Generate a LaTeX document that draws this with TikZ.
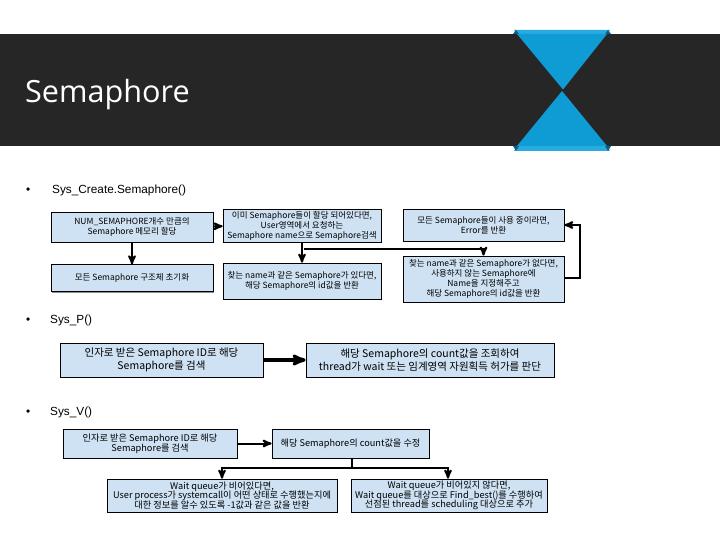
\documentclass[tikz,border=0pt]{standalone}
\usepackage{fontspec}
\setmainfont{Noto Sans CJK KR}
\newfontfamily\titlefont{Open Sans}
\newfontfamily\listfont{Liberation Sans}
\usetikzlibrary{arrows,positioning,shadows}
\definecolor{barcolor}{HTML}{262626}
\definecolor{hourblue}{HTML}{0F9BD4}
\definecolor{hourlight}{HTML}{29ABE2}
\definecolor{hourdark}{HTML}{0B5F8A}
\definecolor{boxblue}{HTML}{CFE2F3}
\tikzset{
    %Define standard arrow tip
    >=stealth',
    %Define style for boxes
    punktflat/.style={
    rectangle,
    fill=boxblue,
    draw=black, line width=0.7pt,
    inner sep=0pt,
    align=center,
    execute at begin node={\lineskiplimit=-20pt\relax},
    font=\fontsize{10.5}{12.3}\selectfont},
    punktrect/.style={
    punktflat,
    font=\fontsize{8.5}{10}\selectfont,
    drop shadow={shadow xshift=1pt,shadow yshift=-1pt,opacity=0.45,fill=black}},
    punktwide/.style={
    punktrect,
    font=\fontsize{9.2}{9.6}\selectfont},
    % Define arrow style
    pil/.style={
           ->,
           line width=2pt,},
    pilthick/.style={
           ->,
           line width=3.2pt,},
    %Define style for headings
    listtext/.style={anchor=west,inner sep=0pt,font=\listfont\fontsize{11.8}{13}\selectfont}
}
\begin{document}
\begin{tikzpicture}[x=1pt,y=-1pt]
\useasboundingbox (0,0) rectangle (720,540);
 %title bar
\fill[barcolor] (0,34) rectangle (720,146);
\fill[hourlight] (514,30) -- (610,30) -- (607,34) -- (517,34) -- cycle;
\fill[hourlight] (517,146) -- (607,146) -- (610,151) -- (514,151) -- cycle;
\fill[hourdark] (513,34) -- (516,30) -- (519,34) -- cycle;
\fill[hourdark] (605,34) -- (608,30) -- (611,34) -- cycle;
\fill[hourdark] (513,146) -- (516,151) -- (519,146) -- cycle;
\fill[hourdark] (605,146) -- (608,151) -- (611,146) -- cycle;
\fill[hourblue] (517,34) -- (607,34) -- (563,89.5) -- cycle;
\fill[hourblue] (517,146) -- (607,146) -- (562,91) -- cycle;
\node[anchor=west,inner sep=0pt,text=white,font=\titlefont\fontsize{30.6}{36}\selectfont] (title) at (25,95) {Semaphore};
 %headings
\node[listtext] (bullet1) at (26,190.5) {•};
\node[listtext] (create) at (52,190.5) {Sys\_Create.Semaphore()};
\node[listtext] (bullet2) at (26,320.5) {•};
\node[listtext] (sysp) at (50,320.5) {Sys\_P()};
\node[listtext] (bullet3) at (26,412.5) {•};
\node[listtext] (sysv) at (50,412.5) {Sys\_V()};
 %nodes of Sys_Create
\node[punktrect, minimum width=162pt, minimum height=30pt] (alloc) at (132,227) {NUM\_SEMAPHORE개수 만큼의\\Semaphore 메모리 할당};
\node[punktrect, minimum width=162pt, minimum height=27pt, below=22pt of alloc] (init) {모든 Semaphore 구조체 초기화};
\node[punktrect, minimum width=158pt, minimum height=33pt] (search) at (302,225.5) {이미 Semaphore들이 할당 되어있다면,\\User영역에서 요청하는\\Semaphore name으로 Semaphore검색};
\node[punktrect, minimum width=158pt, minimum height=36pt] (found) at (302,281) {찾는 name과 같은 Semaphore가 있다면,\\해당 Semaphore의 id값을 반환};
\node[punktrect, minimum width=161pt, minimum height=32pt] (full) at (483.5,225) {모든 Semaphore들이 사용 중이라면,\\Error를 반환};
\node[punktrect, minimum width=161pt, minimum height=46pt] (notfound) at (483.5,279) {찾는 name과 같은 Semaphore가 없다면,\\사용하지 않는 Semaphore에\\Name을 지정해주고\\해당 Semaphore의 id값을 반환};
 %nodes of Sys_P
\node[punktflat, minimum width=203pt, minimum height=34pt] (psearch) at (161.5,360) {인자로 받은 Semaphore ID로 해당\\Semaphore를 검색};
\node[punktflat, minimum width=248pt, minimum height=34pt] (pcount) at (430,360) {해당 Semaphore의 count값을 조회하여\\thread가 wait 또는 임계영역 자원획득 허가를 판단};
 %nodes of Sys_V
\node[punktwide, minimum width=174pt, minimum height=29pt] (vsearch) at (150,443.5) {인자로 받은 Semaphore ID로 해당\\Semaphore를 검색};
\node[punktwide, minimum width=157pt, minimum height=29pt] (vcount) at (350.5,443.5) {해당 Semaphore의 count값을 수정};
\node[punktwide, minimum width=230pt, minimum height=33pt] (vempty) at (222,495.5) {Wait queue가 비어있다면,\\User process가 systemcall이 어떤 상태로 수행했는지에\\대한 정보를 알수 있도록 -1값과 같은 값을 반환};
\node[punktwide, minimum width=196pt, minimum height=33pt] (vfull) at (449,495.5) {Wait queue가 비어있지 않다면,\\Wait queue를 대상으로 Find\_best()를 수행하여\\선점된 thread를 scheduling 대상으로 추가};
 %connectors
\path[pil]
	(alloc) edge (search)
	(alloc) edge (init)
	(search.south -| found) edge (found);
\draw[pil] (search.south -| found) ++(2,7) coordinate (branch) -- (branch -| notfound) -- (notfound.north);
\draw[pil] (notfound.east |- 0,278) -- (580,278) -- (580,225) -- (full.east);
\draw[pilthick] (psearch) -- (pcount);
\draw[pil] (vsearch) -- (vcount);
\draw[pil] (vcount.south -| 352,0) -- (352,468) -- (222,468) -- (vempty.north -| 222,0);
\draw[pil] (352,468) -- (448,468) -- (vfull.north -| 448,0);
  
\end{tikzpicture}
\end{document}
